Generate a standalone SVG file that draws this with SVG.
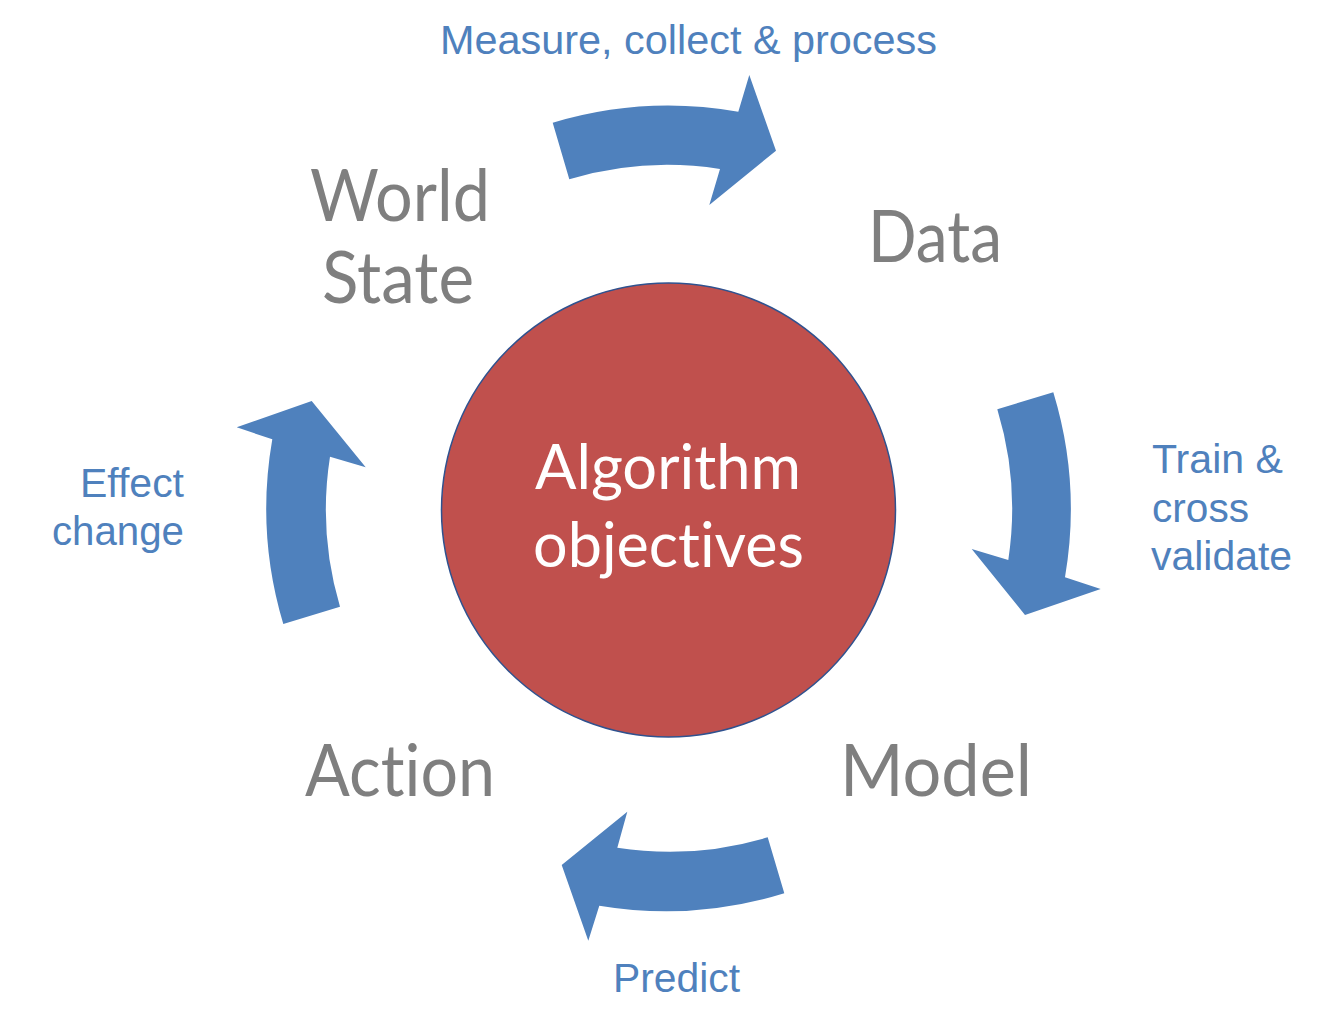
<svg xmlns="http://www.w3.org/2000/svg" width="1335" height="1027" viewBox="0 0 1335 1027">
<style>
.arrow{fill:#4F81BD;stroke:none}
.big{font-family:Lato,"Open Sans","Liberation Sans",sans-serif;fill:#7F7F7F;font-size:72px;font-variant-ligatures:none;font-feature-settings:"liga" 0,"clig" 0,"dlig" 0}
.lbl{font-family:"Liberation Sans",Arial,sans-serif;fill:#4F81BD;font-size:40px}
.ctr{font-family:Lato,"Open Sans","Liberation Sans",sans-serif;fill:#FFFFFF;font-size:62px;font-variant-ligatures:none;font-feature-settings:"liga" 0,"clig" 0,"dlig" 0}
</style>
<rect width="1335" height="1027" fill="#FFFFFF"/>
<g id="center">
<circle cx="668.5" cy="510" r="227" fill="#C0504D" stroke="#2F528F" stroke-width="1.5"/>
<text class="ctr" x="535" y="489" textLength="266" lengthAdjust="spacingAndGlyphs">Algorithm</text>
<text class="ctr" x="533" y="567" textLength="271" lengthAdjust="spacingAndGlyphs">objectives</text>
</g>
<g id="world-state">
<text class="big" x="310" y="221" textLength="180" lengthAdjust="spacingAndGlyphs">World</text>
<text class="big" x="322" y="303" textLength="152" lengthAdjust="spacingAndGlyphs">State</text>
</g>
<g id="data">
<text class="big" x="868" y="262" textLength="134" lengthAdjust="spacingAndGlyphs">Data</text>
</g>
<g id="model">
<text class="big" x="840" y="796" textLength="192" lengthAdjust="spacingAndGlyphs">Model</text>
</g>
<g id="action">
<text class="big" x="305" y="796" textLength="190" lengthAdjust="spacingAndGlyphs">Action</text>
</g>
<g id="connectors">
<path class="arrow" d="M552.7,122.7 A402,402 0 0 1 738.3,111.7 L749.3,75 L776,150.7 L709.3,205 L720,169 A342,342 0 0 0 569.3,179.3 Z"/>
<path class="arrow" d="M997.3,409.3 L1053.3,392.3 A402,402 0 0 1 1065,577.3 L1100.7,589 L1025,615 L971.7,549 L1008.3,560 A342,342 0 0 0 997.3,409.3 Z"/>
<path class="arrow" d="M767.7,837.3 L784.3,893.3 A402,402 0 0 1 599.3,905.7 L588.3,940.7 L561.7,865 L627.3,811.7 L617.3,847.7 A342,342 0 0 0 767.7,837.3 Z"/>
<path class="arrow" d="M340,606.7 L283.3,624 A402,402 0 0 1 272.3,439.3 L236.7,427.3 L311.7,401 L365.7,467.3 L330,456.7 A342,342 0 0 0 340,606.7 Z"/>
<text class="lbl" x="440" y="54" textLength="497" lengthAdjust="spacingAndGlyphs">Measure, collect &amp; process</text>
<text class="lbl" x="1152" y="473" textLength="131" lengthAdjust="spacingAndGlyphs">Train &amp;</text>
<text class="lbl" x="1152" y="522" textLength="97" lengthAdjust="spacingAndGlyphs">cross</text>
<text class="lbl" x="1151" y="570" textLength="141" lengthAdjust="spacingAndGlyphs">validate</text>
<text class="lbl" x="80" y="497" textLength="104" lengthAdjust="spacingAndGlyphs">Effect</text>
<text class="lbl" x="52" y="545" textLength="132" lengthAdjust="spacingAndGlyphs">change</text>
<text class="lbl" x="613" y="992" textLength="127" lengthAdjust="spacingAndGlyphs">Predict</text>
</g>
</svg>
